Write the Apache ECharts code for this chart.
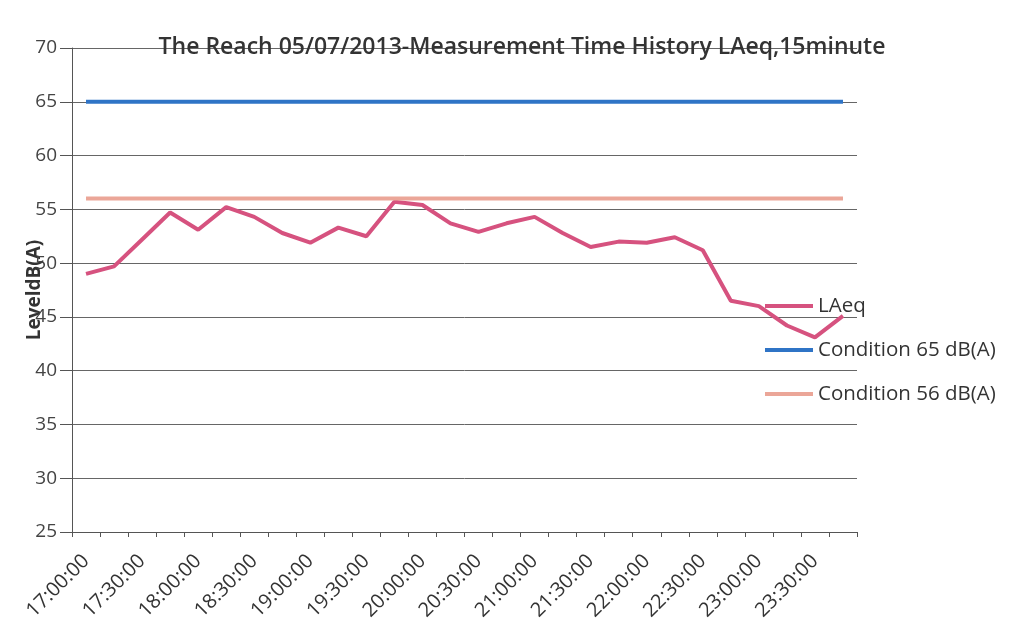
<!DOCTYPE html>
<html>
<head>
<meta charset="utf-8">
<script src="https://cdn.jsdelivr.net/npm/echarts@6/dist/echarts.min.js"></script>
<style>
  html, body { margin: 0; padding: 0; background: #fff; }
  #main { width: 1022px; height: 635px; }
</style>
</head>
<body>
<div id="main"></div>
<script>
// 15 minute intervals, 17:00 - 23:45
var times = ['17:00:00', '17:15:00', '17:30:00', '17:45:00', '18:00:00', '18:15:00', '18:30:00',
  '18:45:00', '19:00:00', '19:15:00', '19:30:00', '19:45:00', '20:00:00', '20:15:00',
  '20:30:00', '20:45:00', '21:00:00', '21:15:00', '21:30:00', '21:45:00', '22:00:00',
  '22:15:00', '22:30:00', '22:45:00', '23:00:00', '23:15:00', '23:30:00', '23:45:00']
var laeq = [49.0, 49.7, 52.2, 54.7, 53.1, 55.2, 54.3, 52.8, 51.9, 53.3, 52.5, 55.7, 55.4, 53.7,
  52.9, 53.7, 54.3, 52.8, 51.5, 52.0, 51.9, 52.4, 51.2, 46.5, 46.0, 44.2, 43.1, 45.1]
var cond65 = [65, 65, 65, 65, 65, 65, 65, 65, 65, 65, 65, 65, 65, 65,
  65, 65, 65, 65, 65, 65, 65, 65, 65, 65, 65, 65, 65, 65]
var cond56 = [56, 56, 56, 56, 56, 56, 56, 56, 56, 56, 56, 56, 56, 56,
  56, 56, 56, 56, 56, 56, 56, 56, 56, 56, 56, 56, 56, 56]

var font = 'Open Sans, sans-serif'
var chart = echarts.init(document.getElementById('main'))
var option = {
  animation: false,
  title: {
    text: 'The Reach 05/07/2013-Measurement Time History LAeq,15minute',
    left: 517,
    textAlign: 'center',
    top: 31,
    textStyle: { color: '#333', fontSize: 23, fontWeight: 600, fontFamily: font }
  },
  legend: {
    orient: 'vertical',
    left: 765,
    top: 295,
    padding: 0,
    itemWidth: 48,
    itemHeight: 4,
    itemGap: 22,
    icon: 'rect',
    textStyle: { color: '#333', fontSize: 20.5, lineHeight: 22, fontFamily: font, padding: [0, 0, 0, 0] },
    data: ['LAeq', 'Condition 65 dB(A)', 'Condition 56 dB(A)']
  },
  grid: { left: 72, right: 165, top: 48, bottom: 103, outerBoundsMode: 'none' },
  xAxis: {
    type: 'category',
    data: times,
    boundaryGap: true,
    axisLine: { lineStyle: { color: '#555', width: 1 } },
    axisTick: { show: true, interval: 0, length: 5, lineStyle: { color: '#555' } },
    axisLabel: { interval: 1, rotate: 45, margin: 26, color: '#333', fontSize: 20, fontFamily: font }
  },
  yAxis: {
    type: 'value',
    min: 25,
    max: 70,
    interval: 5,
    name: 'LeveldB(A)',
    nameLocation: 'middle',
    nameRotate: 90,
    nameGap: 28,
    nameMoveOverlap: false,
    nameTextStyle: { color: '#333', fontSize: 19, fontWeight: 'bold', fontFamily: font },
    axisLine: { show: true, lineStyle: { color: '#555', width: 1 } },
    axisTick: { show: true, length: 12, lineStyle: { color: '#555' } },
    axisLabel: { margin: 15, color: '#444', fontSize: 19, fontFamily: font },
    splitLine: { lineStyle: { color: '#666', width: 1 } }
  },
  series: [
    {
      name: 'LAeq',
      type: 'line',
      data: laeq,
      symbol: 'none',
      lineStyle: { color: '#d6527f', width: 4 },
      itemStyle: { color: '#d6527f' }
    },
    {
      name: 'Condition 65 dB(A)',
      type: 'line',
      data: cond65,
      symbol: 'none',
      lineStyle: { color: '#2f74c6', width: 4 },
      itemStyle: { color: '#2f74c6' }
    },
    {
      name: 'Condition 56 dB(A)',
      type: 'line',
      data: cond56,
      symbol: 'none',
      lineStyle: { color: '#eba698', width: 4 },
      itemStyle: { color: '#eba698' }
    }
  ]
}
chart.setOption(option)
</script>
</body>
</html>
